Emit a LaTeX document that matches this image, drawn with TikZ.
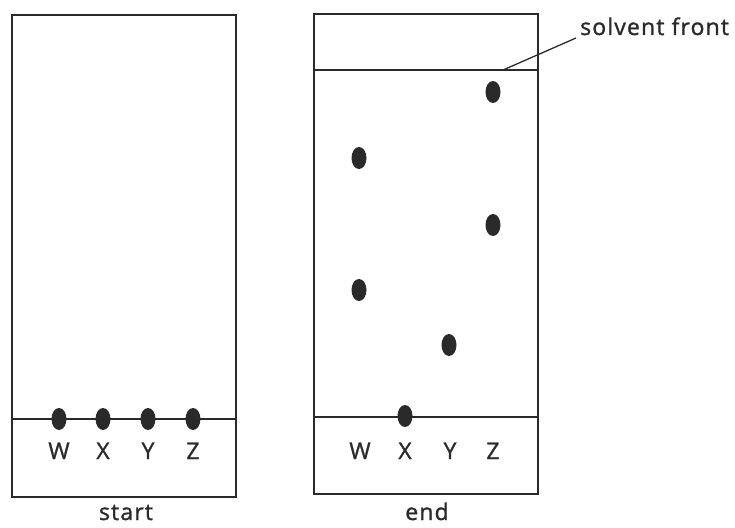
\documentclass[tikz,border=0pt]{standalone}
\usepackage{fontspec}
\setmainfont{Open Sans}[LetterSpace=5,FakeBold=1.2]
\usetikzlibrary{shapes.geometric}
\definecolor{ink}{HTML}{2A2A2A}
\begin{document}
\begin{tikzpicture}[x=1pt,y=-1pt,
  plate/.style={draw=ink,line width=1.7pt},
  rule/.style={draw=ink,line width=1.5pt},
  spot/.style={ellipse,fill=ink,inner sep=0pt,minimum width=15pt,minimum height=22pt},
  lbl/.style={font=\fontsize{23}{25}\selectfont,text=ink,inner sep=0pt,anchor=base},
  caption/.style={font=\fontsize{23}{25}\selectfont,text=ink,inner sep=0pt,anchor=base}]
\useasboundingbox (0,0) rectangle (735,527);
% left plate (start)
\draw[plate] (12,15) rectangle (236,497);
\coordinate (lb1) at (12,419);
\coordinate (lb2) at (236,419);
\draw[rule] (lb1) -- (lb2);
\foreach \n/\x in {W/59,X/103,Y/148,Z/193}{
  \node[spot] (s\n) at (\x,419) {};
  \node[lbl] (l\n) at (\x,459) {\n};
}
\node[caption] (start) at (126,520) {start};
% right plate (end)
\draw[plate] (314,14) rectangle (538,494);
\coordinate (fr1) at (314,70);
\coordinate (fr2) at (538,70);
\draw[rule] (fr1) -- (fr2);
\coordinate (rb1) at (314,417);
\coordinate (rb2) at (538,417);
\draw[rule] (rb1) -- (rb2);
\foreach \n/\x in {W/360,X/405,Y/450,Z/493}{
  \node[lbl] (r\n) at (\x,459) {\n};
}
\node[spot] (w1) at (359,158) {};
\node[spot] (w2) at (359,290) {};
\node[spot] (x1) at (405,416) {};
\node[spot] (y1) at (449,345) {};
\node[spot] (z1) at (493,92) {};
\node[spot] (z2) at (493,225) {};
\node[caption] (end) at (427,520) {end};
% solvent front label with leader
\node[caption,anchor=base west] (sf) at (580,35) {solvent front};
\coordinate (sfp) at (503,70);
\coordinate (sfq) at (576,38);
\draw[ink,line width=1.3pt] (sfp) -- (sfq);
\end{tikzpicture}
\end{document}
